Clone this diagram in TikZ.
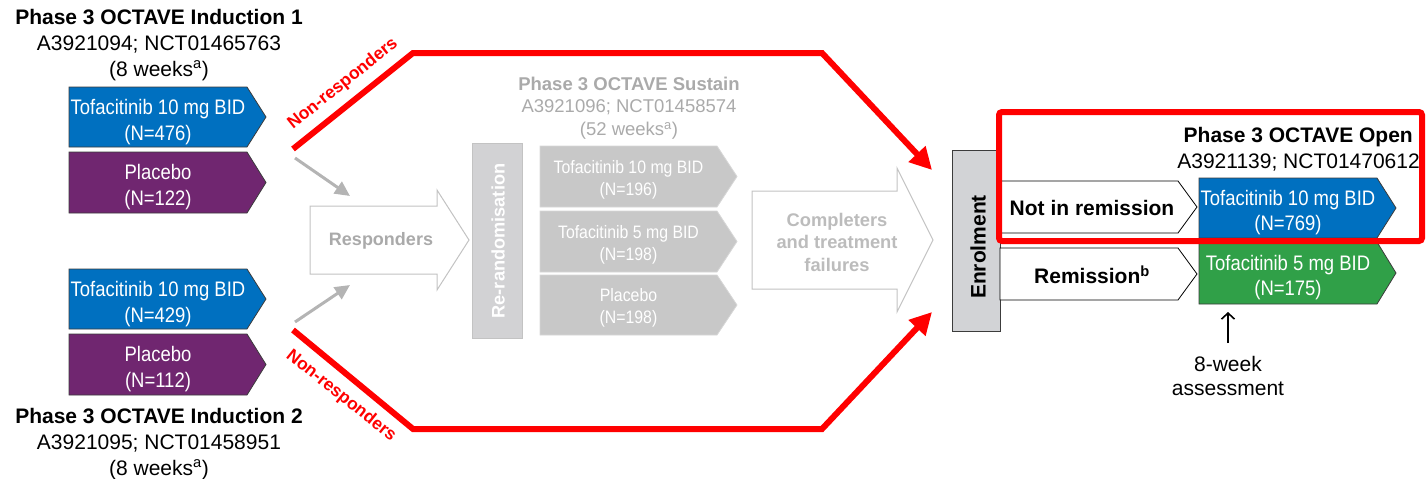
\documentclass[tikz,border=0pt]{standalone}
\usepackage{fontspec}
\setmainfont{Liberation Sans}
\newfontfamily\condfont[FakeStretch=0.88]{Liberation Sans}
\usetikzlibrary{arrows.meta}
\definecolor{tblue}{RGB}{0,112,192}
\definecolor{tpurple}{RGB}{112,38,112}
\definecolor{tgreen}{RGB}{48,160,72}
\definecolor{sgray}{RGB}{200,200,200}
\definecolor{sgrayline}{RGB}{215,215,215}
\definecolor{rrgray}{RGB}{210,210,212}
\definecolor{enrgray}{RGB}{210,211,214}
\definecolor{txtgray}{RGB}{170,170,170}
\definecolor{lighttxt}{RGB}{188,188,188}
\definecolor{arrgray}{RGB}{180,180,180}
\definecolor{outgray}{RGB}{195,195,195}
\definecolor{tred}{RGB}{255,0,0}
\definecolor{edgedark}{RGB}{60,60,60}
\tikzset{
 hdr/.style={font=\fontsize{21}{26}\selectfont, align=center, inner sep=0pt},
 armtxt/.style={text=white, font=\condfont\fontsize{21}{26}\selectfont, align=center, inner sep=0pt, yshift=-5pt},
 opentxt/.style={text=white, font=\condfont\fontsize{21}{25}\selectfont, align=center, inner sep=0pt, yshift=-5pt},
 susttxt/.style={text=white, font=\condfont\fontsize{18}{22}\selectfont, align=center, inner sep=0pt, yshift=-3pt},
 remtxt/.style={font=\bfseries\fontsize{21}{25}\selectfont, inner sep=0pt, xshift=3pt, yshift=-1pt},
 armshape/.style={draw=edgedark, line width=0.8pt},
 sustshape/.style={fill=sgray, draw=sgrayline, line width=0.8pt},
 whiteshape/.style={fill=white, draw=black, line width=0.8pt},
 blockarrow/.style={fill=white, draw=outgray, line width=1pt},
 redline/.style={draw=tred, line width=6pt, -{Triangle[length=22pt,width=22pt]}},
 grayarrow/.style={draw=arrgray, line width=3pt, -{Triangle[length=15pt,width=14pt]}},
 nrlabel/.style={text=tred, font=\bfseries\fontsize{17.5}{20}\selectfont, inner sep=0pt},
}
% name, x1, y1, x2, y2, tip x, shape style, text style, text
\newcommand\armbox[9]{%
 \path[#7] (#2,#3) -- (#4,#3) -- (#6,{(#3+#5)/2}) -- (#4,#5) -- (#2,#5) -- cycle;
 \node[#8] (#1) at ({(#2+#4)/2},{(#3+#5)/2}) {#9};}
\begin{document}
\begin{tikzpicture}[x=1pt,y=-1pt]
\useasboundingbox (0,0) rectangle (1428,479);

% Induction 1
\node[hdr] (ind1hdr) at (159,45) {\textbf{Phase 3 OCTAVE Induction 1}\\A3921094; NCT01465763\\(8 weeks\textsuperscript{a})};
\armbox{ia1}{69}{87}{247}{147}{266}{armshape,fill=tblue}{armtxt}{Tofacitinib 10 mg BID\\(N=476)}
\armbox{ia2}{69}{152}{247}{213}{266}{armshape,fill=tpurple}{armtxt}{Placebo\\(N=122)}

% Induction 2
\armbox{ib1}{69}{269}{247}{329}{266}{armshape,fill=tblue}{armtxt}{Tofacitinib 10 mg BID\\(N=429)}
\armbox{ib2}{69}{334}{247}{395}{266}{armshape,fill=tpurple}{armtxt}{Placebo\\(N=112)}
\node[hdr] (ind2hdr) at (159,444) {\textbf{Phase 3 OCTAVE Induction 2}\\A3921095; NCT01458951\\(8 weeks\textsuperscript{a})};

% Responders block arrow
\path[blockarrow] (310,206) -- (437,206) -- (437,190) -- (469,240) -- (437,290) -- (437,274) -- (310,274) -- cycle;
\node[text=txtgray, font=\bfseries\fontsize{18}{20}\selectfont, inner sep=0pt] (resp) at (381,241) {Responders};

% gray arrows
\coordinate (g1s) at (295,158);
\coordinate (g1e) at (350,196);
\coordinate (g2s) at (295,322);
\coordinate (g2e) at (350,285);
\draw[grayarrow] (g1s) -- (g1e);
\draw[grayarrow] (g2s) -- (g2e);

% Sustain
\node[hdr, text=txtgray, font=\fontsize{18.5}{22.5}\selectfont] (susthdr) at (629,108) {\textbf{Phase 3 OCTAVE Sustain}\\A3921096; NCT01458574\\(52 weeks\textsuperscript{a})};
\draw[fill=rrgray, draw=outgray, line width=0.8pt] (472,143) rectangle (522,338);
\node[rotate=90, text=white, font=\bfseries\fontsize{18.2}{20}\selectfont, inner sep=0pt] (rerand) at (498,241) {Re-randomisation};
\armbox{s1}{540}{146}{717}{207}{737}{sustshape}{susttxt}{Tofacitinib 10 mg BID\\(N=196)}
\armbox{s2}{540}{211}{717}{272}{737}{sustshape}{susttxt}{Tofacitinib 5 mg BID\\(N=198)}
\armbox{s3}{540}{275}{717}{335}{737}{sustshape}{susttxt}{Placebo\\(N=198)}

% Completers block arrow
\path[blockarrow] (752,191) -- (897,191) -- (897,168) -- (933,240) -- (897,312) -- (897,289) -- (752,289) -- cycle;
\node[text=lighttxt, font=\bfseries\fontsize{18.3}{22.5}\selectfont, align=center, inner sep=0pt] (compl) at (837,242) {Completers\\and treatment\\failures};

% Enrolment
\draw[fill=enrgray, draw=edgedark, line width=0.8pt] (952,150) rectangle (1000,331);
\node[rotate=90, font=\bfseries\fontsize{21}{24}\selectfont, inner sep=0pt] (enrol) at (978,247) {Enrolment};

% Open
\armbox{nir}{1000}{181}{1178}{233}{1197}{whiteshape}{remtxt}{Not in remission}
\armbox{rem}{1000}{248}{1178}{300}{1197}{whiteshape}{remtxt}{Remission\textsuperscript{b}}
\armbox{o1}{1199}{178}{1377}{238}{1396}{armshape,fill=tblue}{opentxt}{Tofacitinib 10 mg BID\\(N=769)}
\armbox{o2}{1199}{242}{1377}{304}{1396}{armshape,fill=tgreen}{opentxt}{Tofacitinib 5 mg BID\\(N=175)}
\node[hdr, align=right, anchor=east] (openhdr) at (1420,149) {\textbf{Phase 3 OCTAVE Open}\rule{7pt}{0pt}\\A3921139; NCT01470612};
\draw[draw=tred, line width=6pt, rounded corners=3pt] (999,112) rectangle (1422,241);

% assessment arrow
\node[font=\fontsize{21}{24}\selectfont, align=center, inner sep=0pt] (assess) at (1228,376) {8-week\\assessment};
\coordinate (assB) at (1228,343);
\coordinate (assT) at (1228,312);
\draw[line width=1.6pt, -{Straight Barb[length=6pt,width=13pt]}] (assB) -- (assT);

% Non-responders red arrows
\coordinate (nr1s) at (293,149);
\coordinate (nr1e) at (932,170);
\coordinate (nr2s) at (293,330);
\coordinate (nr2e) at (932,312);
\draw[redline] (nr1s) -- (413,53) -- (822,53) -- (nr1e);
\draw[redline] (nr2s) -- (413,429) -- (822,429) -- (nr2e);
\node[nrlabel, rotate=38.7] (nr1) at (343,84) {Non-responders};
\node[nrlabel, rotate=-38.7] (nr2) at (341,396) {Non-responders};
\end{tikzpicture}
\end{document}
